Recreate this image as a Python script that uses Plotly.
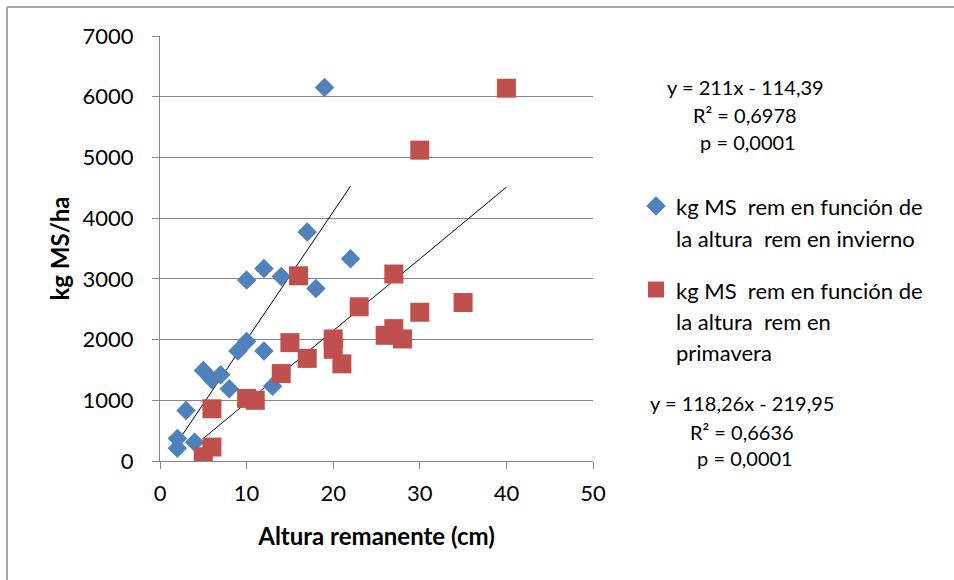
import plotly.graph_objects as go

# ---- data ----
winter_x = [19, 17, 22, 12, 14, 10, 18, 10, 9, 12, 5, 6, 7, 8, 13, 3, 2, 2, 4]
winter_y = [6150, 3770, 3330, 3170, 3040, 2980, 2840, 1970, 1810, 1810, 1490, 1340, 1420, 1190, 1230, 830, 370, 210, 310]
spring_x = [40, 30, 27, 16, 23, 30, 35, 26, 27, 28, 20, 20, 21, 15, 17, 14, 10, 11, 6, 6, 5]
spring_y = [6140, 5120, 3080, 3050, 2540, 2450, 2610, 2070, 2180, 2010, 2010, 1840, 1600, 1950, 1690, 1440, 1030, 1000, 860, 230, 70]
winter_fit = (211.0, -114.39)
spring_fit = (118.26, -219.95)
series_lines = [["kg MS  rem en función de", "la altura  rem en invierno"],
                ["kg MS  rem en función de", "la altura  rem en", "primavera"]]
eq_winter = ["y = 211x - 114,39", "R² = 0,6978", " p = 0,0001"]
eq_spring = ["y = 118,26x - 219,95", "R² = 0,6636", " p = 0,0001"]
x_ticks = [0, 10, 20, 30, 40, 50]
y_ticks = [0, 1000, 2000, 3000, 4000, 5000, 6000, 7000]

W, H = 954, 580
L, R, T, B = 160, 361, 36, 119
FONT = "Lato, 'Open Sans', sans-serif"
BLUE = "#4F81BD"
RED = "#C0504D"
GRID = "#878787"


def px_x(px):
    return (px - L) / (W - L - R)


def px_y(py):
    return (H - B - py) / (H - T - B)


def legend_name(lines):
    return "<br>".join('<span style="font-size:22px">%s</span>' % s for s in lines)


fig = go.Figure()

# trendlines (from regression equations over each data range)
for xs, (a, b) in [(winter_x, winter_fit), (spring_x, spring_fit)]:
    x0, x1 = min(xs), max(xs)
    fig.add_trace(go.Scatter(x=[x0, x1], y=[a * x0 + b, a * x1 + b], mode="lines",
                             line=dict(color="#000000", width=1), showlegend=False,
                             hoverinfo="skip"))

fig.add_trace(go.Scatter(x=winter_x, y=winter_y, mode="markers", name=legend_name(series_lines[0]),
                         legendgroup="w",
                         marker=dict(symbol="diamond", size=15, color=BLUE, line=dict(width=0))))
fig.add_trace(go.Scatter(x=spring_x, y=spring_y, mode="markers", name=legend_name(series_lines[1]),
                         legendgroup="s",
                         marker=dict(symbol="square", size=19, color=RED, line=dict(width=0))))

axis_common = dict(showline=True, linecolor=GRID, linewidth=1, ticks="outside",
                   tickcolor=GRID, ticklen=7, tickwidth=1, zeroline=False,
                   tickfont=dict(family=FONT, size=22, color="#000000"))

fig.update_xaxes(range=[0, 50], tickvals=x_ticks, showgrid=False, ticklabelstandoff=6,
                 title=dict(text="<b>Altura remanente (cm)</b>", font=dict(family=FONT, size=24, color="#000"),
                            standoff=22),
                 **axis_common)
fig.update_yaxes(range=[0, 7000], tickvals=y_ticks, showgrid=True, gridcolor=GRID, gridwidth=1,
                 ticklabelstandoff=14,
                 title=dict(text="<b>kg MS/ha</b>", font=dict(family=FONT, size=24, color="#000"),
                            standoff=6),
                 **axis_common)

annotations = []
for txt, py in zip(eq_winter, [87, 115, 142]):
    annotations.append(dict(text=txt, xref="paper", yref="paper", x=px_x(745), y=px_y(py),
                            showarrow=False, xanchor="center", yanchor="middle",
                            font=dict(family=FONT, size=20, color="#000")))
for txt, py in zip(eq_spring, [403, 432, 458]):
    annotations.append(dict(text=txt, xref="paper", yref="paper", x=px_x(742), y=px_y(py),
                            showarrow=False, xanchor="center", yanchor="middle",
                            font=dict(family=FONT, size=20, color="#000")))

shapes = [
    dict(type="line", xref="paper", yref="paper", x0=px_x(7), x1=px_x(W), y0=px_y(7), y1=px_y(7),
         line=dict(color="#A6A6A6", width=2)),
    dict(type="line", xref="paper", yref="paper", x0=px_x(7), x1=px_x(7), y0=px_y(7), y1=px_y(H),
         line=dict(color="#A6A6A6", width=2)),
]

fig.update_layout(
    width=W, height=H,
    margin=dict(l=L, r=R, t=T, b=B),
    paper_bgcolor="white", plot_bgcolor="white",
    font=dict(family=FONT, color="#000"),
    legend=dict(x=px_x(636), y=px_y(184), xanchor="left", yanchor="top",
                font=dict(family=FONT, size=24, color="#000"), valign="top",
                tracegroupgap=18, bgcolor="rgba(0,0,0,0)"),
    annotations=annotations,
    shapes=shapes,
)

fig.write_html("out.html")
